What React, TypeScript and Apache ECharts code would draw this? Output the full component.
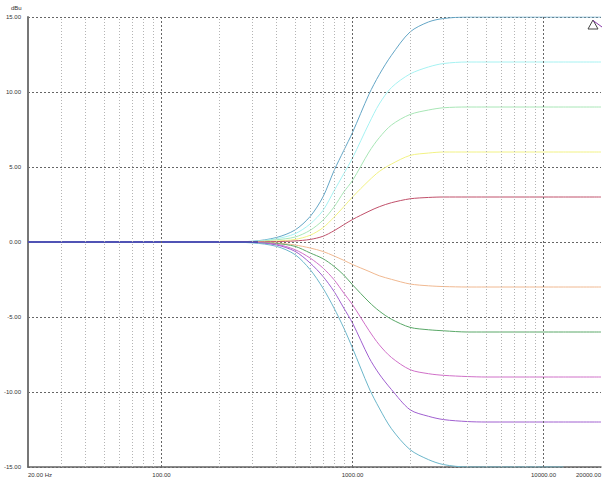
import React, { useEffect, useRef } from 'react';
import * as echarts from 'echarts';

// Frequencies (Hz) at which curve values were read
const freqs = [20, 200, 300, 400, 500, 600, 700, 800, 900, 1000, 1220, 1380, 1600, 2000, 2500, 3000, 4000, 5000, 10000, 12700, 20000];

// Shelf gain curves (dBu)
const p15 = [0, 0, 0.05, 0.3, 0.8, 1.7, 3.0, 4.75, 6.1, 7.3, 9.85, 11.15, 12.45, 14.0, 14.67, 14.9, 15, 15, 15, 15, 15];
const p12 = [0, 0, 0.04, 0.22, 0.55, 1.2, 2.1, 3.4, 4.55, 5.6, 7.9, 9.2, 10.3, 11.2, 11.67, 11.9, 12, 12, 12, 12, 12];
const p9 = [0, 0, 0.03, 0.15, 0.33, 0.78, 1.45, 2.33, 3.33, 4.1, 6.0, 6.95, 7.8, 8.5, 8.8, 8.95, 9, 9, 9, 9, 9];
const p6 = [0, 0, 0.02, 0.07, 0.17, 0.45, 0.95, 1.65, 2.35, 3.0, 4.1, 4.7, 5.2, 5.77, 5.93, 6.0, 6, 6, 6, 6, 6];
const p3 = [0, 0, 0.01, 0.03, 0.07, 0.17, 0.38, 0.75, 1.15, 1.5, 2.05, 2.35, 2.62, 2.88, 2.97, 3.0, 3, 3, 3, 3, 3];
const m3 = [0, 0, -0.01, -0.06, -0.2, -0.4, -0.63, -0.93, -1.22, -1.5, -1.96, -2.25, -2.49, -2.8, -2.92, -2.97, -3, -3, -3, -3, -3];
const m6 = [0, 0, -0.02, -0.1, -0.29, -0.73, -1.11, -1.62, -2.2, -2.85, -4.0, -4.6, -5.15, -5.69, -5.85, -5.92, -6, -6, -6, -6, -6];
const m9 = [0, 0, -0.03, -0.15, -0.51, -1.07, -1.73, -2.51, -3.4, -4.18, -5.9, -6.85, -7.7, -8.51, -8.78, -8.89, -8.97, -9, -9, -9, -9];
const m12 = [0, 0, -0.03, -0.2, -0.62, -1.4, -2.29, -3.29, -4.4, -5.4, -7.7, -8.8, -9.84, -11.18, -11.62, -11.84, -11.97, -12, -12, -12, -12];
const m15 = [0, 0, -0.06, -0.29, -0.84, -1.84, -3.07, -4.4, -5.73, -7.07, -9.73, -11.07, -12.45, -13.84, -14.51, -14.84, -15, -15, -15, -15, null];

// Flat 0 dB trace at low frequencies
const flatFreqs = [20, 320];
const flatVals = [0, 0];

const curveValues = [p15, p12, p9, p6, p3, m3, m6, m9, m12, m15];
const curveNames = ['+15', '+12', '+9', '+6', '+3', '-3', '-6', '-9', '-12', '-15'];
const curveColors = ['#64a6c6', '#a6f2f2', '#a8e6b6', '#f2f284', '#c0506a', '#f0b890', '#5aa868', '#d070c8', '#a060d0', '#6cb6ca'];

// Grid line frequencies
const decadeFreqs = [100, 1000, 10000];
const minorFreqs = [30, 40, 50, 60, 70, 80, 90, 200, 300, 400, 500, 600, 700, 800, 900, 2000, 3000, 4000, 5000, 6000, 7000, 8000, 9000];

const FONT = "'Liberation Sans', Arial, sans-serif";

export default function App() {
  const ref = useRef<HTMLDivElement>(null);
  useEffect(() => {
    if (!ref.current) return;
    const chart = echarts.init(ref.current, undefined, { renderer: 'svg' });
    const pairs = (xs: number[], ys: (number | null)[]) => xs.map((x, i) => [x, ys[i]]);
    const series: any[] = [
      {
        type: 'line',
        name: 'grid',
        data: [],
        z: 1,
        silent: true,
        markLine: {
          silent: true,
          symbol: 'none',
          label: { show: false },
          animation: false,
          data: [
            ...minorFreqs.map((f) => ({ xAxis: f, lineStyle: { color: '#b4b4b4', type: [1, 2], width: 1 } })),
            ...decadeFreqs.map((f) => ({ xAxis: f, lineStyle: { color: '#666', type: [2, 2], width: 1 } })),
          ],
        },
      },
      ...curveValues.map((vals, i) => ({
        type: 'line',
        name: curveNames[i],
        data: pairs(freqs, vals),
        showSymbol: false,
        smooth: 0.3,
        connectNulls: false,
        lineStyle: { color: curveColors[i], width: 1 },
        itemStyle: { color: curveColors[i] },
        z: 3,
      })),
      {
        type: 'line',
        name: '0',
        data: pairs(flatFreqs, flatVals),
        showSymbol: false,
        lineStyle: { color: '#3c3cb0', width: 1.5 },
        z: 4,
      },
    ];
    chart.setOption({
      animation: false,
      backgroundColor: '#ffffff',
      grid: { left: 28, right: 1, top: 17, bottom: 13, containLabel: false },
      xAxis: {
        type: 'log',
        logBase: 10,
        min: 20,
        max: 20000,
        axisLine: { show: true, onZero: false, lineStyle: { color: '#666', width: 1.5 } },
        axisTick: { show: false },
        splitLine: { show: false },
        axisLabel: {
          fontSize: 6,
          fontFamily: FONT,
          color: '#333',
          margin: 5,
          showMinLabel: true,
          showMaxLabel: true,
          alignMinLabel: 'left',
          alignMaxLabel: 'right',
          formatter: (v: number) => (Math.round(v) === 20 ? '20.00 Hz' : Math.round(v).toFixed(2)),
        },
      },
      yAxis: {
        type: 'value',
        min: -15,
        max: 15,
        interval: 5,
        axisLine: { show: true, lineStyle: { color: '#777', width: 2 } },
        axisTick: { show: false },
        splitLine: { show: true, lineStyle: { color: '#666', type: [2, 2], width: 1 } },
        axisLabel: {
          fontSize: 6,
          fontFamily: FONT,
          color: '#333',
          margin: 7,
          formatter: (v: number) => v.toFixed(2),
        },
      },
      graphic: [
        { type: 'text', left: 11, top: 5, style: { text: 'dBu', fontSize: 6, fontFamily: FONT, fill: '#333' } },
        {
          type: 'polygon',
          shape: { points: [[588, 29], [593, 20], [598, 29]] },
          style: { fill: '#ffffff', stroke: '#444', lineWidth: 1 },
          z: 10,
        },
        { type: 'line', shape: { x1: 593, y1: 20.5, x2: 602, y2: 27 }, style: { stroke: '#8a3aa8', lineWidth: 1 }, z: 11 },
      ],
      series,
    });
    return () => chart.dispose();
  }, []);
  return (
    <div style={{ position: 'fixed', left: 0, top: 0, width: 602, height: 480, overflow: 'hidden', background: '#fff' }}>
      <div ref={ref} style={{ width: 604, height: 480 }} />
    </div>
  );
}
